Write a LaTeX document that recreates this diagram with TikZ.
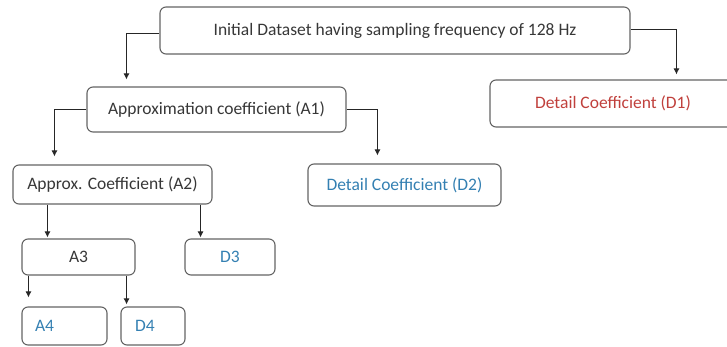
\documentclass[tikz,border=0pt]{standalone}
\usepackage{fontspec}
\setmainfont{Carlito}
\usetikzlibrary{arrows.meta}
\definecolor{boxgray}{RGB}{100,100,100}
\definecolor{labelgray}{RGB}{55,55,55}
\definecolor{detailred}{RGB}{192,64,60}
\definecolor{detailblue}{RGB}{52,128,178}
\begin{document}
\begin{tikzpicture}[x=1pt, y=-1pt, font=\fontsize{17.5}{20}\selectfont, text = labelgray]
\tikzstyle{arrow} = [line width = 0.9pt, color = black!85, -{Latex[length=6pt, width=6pt]}] % standard arrow between levels
\tikzstyle{block} = [draw = boxgray, line width = 1.1pt, rounded corners = 6pt, align = center, inner sep = 0pt] % standard coefficient box
\useasboundingbox (0,0) rectangle (727,347); % keep the page at the reference size
\node(init)[block, minimum width = 470pt, minimum height = 47pt] at (395,30.5){Initial Dataset having sampling frequency of 128 Hz}; % top box
\node(A1)[block, minimum width = 259pt, minimum height = 45pt] at (216.5,109.5){Approximation coefficient (A1)};
\node(D1)[block, minimum width = 246pt, minimum height = 47pt, text = detailred] at (613,103.5){Detail Coefficient (D1)};
\node(A2)[block, minimum width = 199pt, minimum height = 39pt] at (112.5,184.5){Approx. Coefficient (A2)};
\node(D2)[block, minimum width = 193pt, minimum height = 42pt, text = detailblue] at (404.5,185){Detail Coefficient (D2)};
\node(A3)[block, minimum width = 113pt, minimum height = 36pt] at (78.5,257){A3};
\node(D3)[block, minimum width = 90pt, minimum height = 36pt, text = detailblue] at (230,257){D3};
% last level: labels sit to the left of the box
\node(A4)[block, text width = 59pt, inner xsep = 13pt, align = left, minimum height = 38pt, text = detailblue] at (64.5,326){A4};
\node(D4)[block, text width = 36pt, inner xsep = 14pt, align = left, minimum height = 38pt, text = detailblue] at (153,326){D4};
% connectors
\draw[arrow, shorten >= 7pt]([yshift=-2.5pt]init.west)-|([xshift=40pt]A1.north west); % to A1
\draw[arrow, shorten >= 5pt]([yshift=1.5pt]init.east)-|([xshift=187pt]D1.north west); % to D1
\draw[arrow, shorten >= 8pt](A1.west)-|([xshift=42pt]A2.north west); % to A2
\draw[arrow, shorten >= 8pt](A1.east)-|([xshift=70pt]D2.north west); % to D2
\draw[arrow, shorten >= 1pt]([xshift=35pt]A2.south west)--([xshift=35pt]A2.south west |- A3.north); % to A3
\draw[arrow, shorten >= 1pt]([xshift=-12pt]A2.south east)--([xshift=-12pt]A2.south east |- D3.north); % to D3
\draw[arrow, shorten >= 9pt]([xshift=7pt]A3.south west)--([xshift=7pt]A3.south west |- A4.north); % to A4
\draw[arrow, shorten >= 2pt]([xshift=-9pt]A3.south east)--([xshift=-9pt]A3.south east |- D4.north); % to D4
\end{tikzpicture}
\end{document}
